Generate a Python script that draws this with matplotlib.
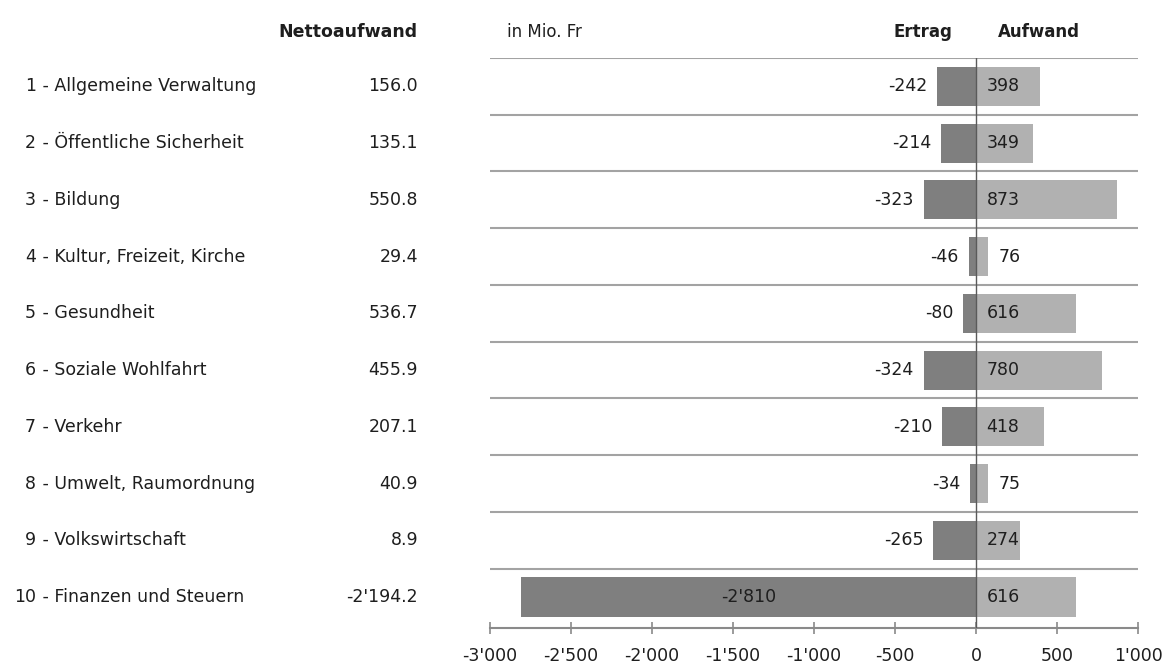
#!/usr/bin/env python3
"""Nettoaufwand nach Aufgabenbereich: Ertrag vs. Aufwand (in Mio. Fr)."""

import matplotlib.pyplot as plt
import numpy as np

plt.rcParams['font.family'] = ['DejaVu Sans']

numbers = ['1', '2', '3', '4', '5', '6', '7', '8', '9', '10']
categories = ['Allgemeine Verwaltung', 'Öffentliche Sicherheit', 'Bildung',
              'Kultur, Freizeit, Kirche', 'Gesundheit', 'Soziale Wohlfahrt',
              'Verkehr', 'Umwelt, Raumordnung', 'Volkswirtschaft',
              'Finanzen und Steuern']
netto = ['156.0', '135.1', '550.8', '29.4', '536.7', '455.9', '207.1',
         '40.9', '8.9', "-2'194.2"]
ertrag = [-242, -214, -323, -46, -80, -324, -210, -34, -265, -2810]
aufwand = [398, 349, 873, 76, 616, 780, 418, 75, 274, 616]
xticks = [-3000, -2500, -2000, -1500, -1000, -500, 0, 500, 1000]


def swiss(v):
    s = f"{abs(v):,}".replace(",", "'")
    return ("-" if v < 0 else "") + s


TXT = '#1e1e1e'
DARK = '#7f7f7f'
LIGHT = '#b1b1b1'
FS = 12.5
W, H = 1171, 666

fig = plt.figure(figsize=(W / 100, H / 100), dpi=100)
# axes spans x 490..1138 px, y 58..628 px
ax = fig.add_axes([490 / W, 1 - 628 / H, 648 / W, 570 / H])

y = np.arange(len(categories))
ax.barh(y, ertrag, height=0.69, color=DARK, zorder=2)
ax.barh(y, aufwand, height=0.69, color=LIGHT, zorder=2)

# row separators
for k in range(len(categories)):
    ax.axhline(k - 0.5, color='#a3a3a3', linewidth=1.5, zorder=1)
ax.axvline(0, color='#5a5a5a', linewidth=1.0, zorder=3)

for i in range(len(categories)):
    e, a = ertrag[i], aufwand[i]
    if e < -1500:
        ax.text(e / 2, i, swiss(e), ha='center', va='center',
                fontsize=FS, color=TXT, zorder=4)
    else:
        ax.text(e - 60, i, swiss(e), ha='right', va='center',
                fontsize=FS, color=TXT, zorder=4)
    if a < 150:
        ax.text(a + 65, i, swiss(a), ha='left', va='center',
                fontsize=FS, color=TXT, zorder=4)
    else:
        ax.text(65, i, swiss(a), ha='left', va='center',
                fontsize=FS, color=TXT, zorder=4)

ax.set_xlim(-3000, 1000)
ax.set_ylim(len(categories) - 1 + 0.545, -0.5)
ax.set_xticks(xticks)
ax.set_xticklabels([swiss(t) for t in xticks], fontsize=FS, color=TXT)
ax.set_yticks([])
ax.tick_params(axis='x', direction='inout', length=8, width=1.2,
               color='#8a8a8a', pad=10)
for s in ['top', 'right', 'left']:
    ax.spines[s].set_visible(False)
ax.spines['bottom'].set_color('#8a8a8a')
ax.spines['bottom'].set_linewidth(1.5)

# headers (figure pixel positions)
hy = 1 - 32 / H
fig.text(507 / W, hy, 'in Mio. Fr', ha='left', va='center', fontsize=FS - 0.5, color=TXT)
fig.text(923 / W, hy, 'Ertrag', ha='center', va='center', fontsize=FS - 0.5,
         fontweight='bold', color=TXT)
fig.text(1039 / W, hy, 'Aufwand', ha='center', va='center', fontsize=FS - 0.5,
         fontweight='bold', color=TXT)
fig.text(418 / W, hy, 'Nettoaufwand', ha='right', va='center',
         fontsize=FS, fontweight='bold', color=TXT)

# left table, rows aligned with the bars
for i in range(len(categories)):
    fy = ax.transData.transform((0, i))[1]
    fy = fig.transFigure.inverted().transform((0, fy))[1]
    fig.text(36 / W, fy, numbers[i], ha='right', va='center', fontsize=FS, color=TXT)
    fig.text(37 / W, fy, ' - ' + categories[i], ha='left', va='center',
             fontsize=FS, color=TXT)
    fig.text(418 / W, fy, netto[i], ha='right', va='center', fontsize=FS, color=TXT)

fig.savefig('out.png', dpi=100, facecolor='white')
